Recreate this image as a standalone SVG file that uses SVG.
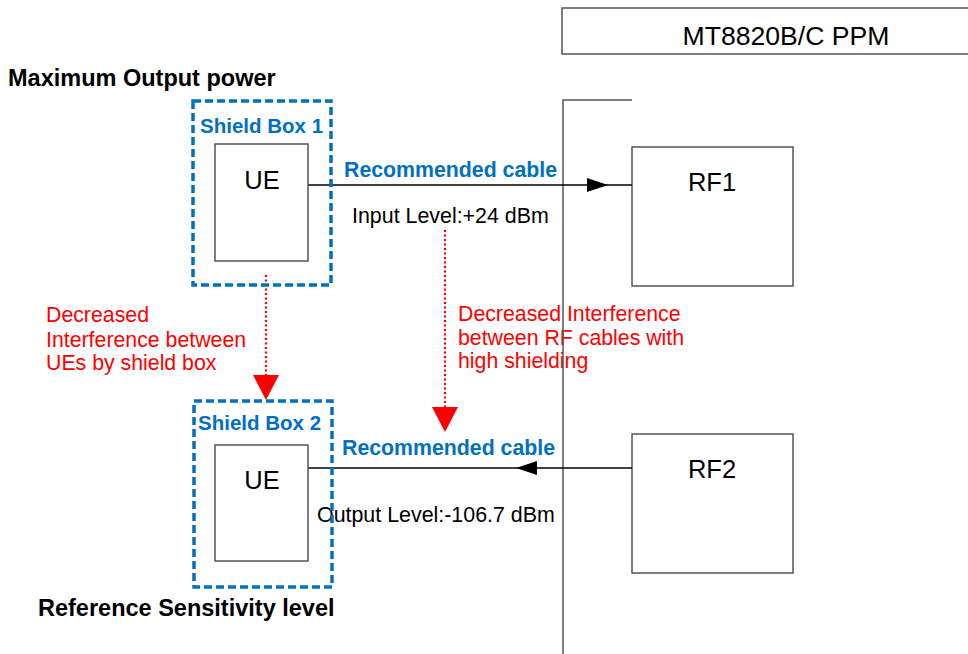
<svg xmlns="http://www.w3.org/2000/svg" width="968" height="654" viewBox="0 0 968 654">
<defs>
<style>
text{font-family:"Liberation Sans",Arial,sans-serif}
.box{fill:#fff;stroke:#555;stroke-width:1.5}
.shield{fill:none;stroke:#0070C0;stroke-width:3.5;stroke-dasharray:8 4}
.lbl{font-size:25.5px;fill:#000;text-anchor:middle}
.blue{font-size:20.5px;font-weight:bold;fill:#0070C0}
.cab{font-size:21.3px;font-weight:bold;fill:#0070C0}
.lev{font-size:21.4px;fill:#000}
.red{font-size:21.3px;fill:#FF0000}
.title{font-size:23.5px;font-weight:bold;fill:#000}
.wire{stroke:#000;stroke-width:1.3;fill:none}
.dot{stroke:#FF0000;stroke-width:2.2;stroke-dasharray:2 2.5;fill:none}
</style>
</defs>
<rect width="968" height="654" fill="#fff"/>

<g id="ppm">
<rect class="box" x="562" y="8" width="420" height="46"/>
<text x="786" y="45" style="font-size:26.6px" text-anchor="middle">MT8820B/C PPM</text>
</g>

<text class="title" x="8" y="86">Maximum Output power</text>
<text class="title" x="38" y="616">Reference Sensitivity level</text>

<g id="notes">
<text class="red" x="46" y="322">Decreased</text>
<text class="red" x="46" y="347">Interference between</text>
<text class="red" x="46" y="370">UEs by shield box</text>
<text class="red" x="458" y="321">Decreased Interference</text>
<text class="red" x="458" y="345">between RF cables with</text>
<text class="red" x="458" y="368">high shielding</text>
</g>

<g id="ppm-frame">
<polyline fill="none" stroke="#555" stroke-width="1.5" points="632,100 563,100 563,654"/>
</g>

<g id="rf1">
<rect class="box" x="632" y="147" width="161" height="139"/>
<text class="lbl" x="712" y="191">RF1</text>
</g>
<g id="rf2">
<rect class="box" x="632" y="434" width="161" height="139"/>
<text class="lbl" x="712" y="478">RF2</text>
</g>

<g id="connectors">
<line class="wire" x1="308" y1="185" x2="632" y2="185"/>
<polygon points="587,178 608,185 587,192" fill="#000"/>
<line class="wire" x1="632" y1="468" x2="308" y2="468"/>
<polygon points="537,461 516,468 537,475" fill="#000"/>
<line class="dot" x1="266" y1="275" x2="266" y2="376"/>
<polygon points="253,375 279,375 266,400" fill="#FF0000"/>
<line class="dot" x1="445" y1="230" x2="445" y2="408"/>
<polygon points="432,407 458,407 445,432" fill="#FF0000"/>
</g>

<g id="cable-labels">
<text class="cab" x="344" y="177">Recommended cable</text>
<text class="lev" x="352" y="223">Input Level:+24 dBm</text>
<text class="cab" x="342" y="455">Recommended cable</text>
<text class="lev" x="317" y="522">Output Level:-106.7 dBm</text>
</g>

<g id="ue1">
<rect class="box" x="215" y="144" width="93" height="117"/>
<text class="lbl" x="262" y="189">UE</text>
</g>
<g id="ue2">
<rect class="box" x="215" y="445" width="93" height="116"/>
<text class="lbl" x="262" y="489">UE</text>
</g>

<g id="shield1">
<rect class="shield" x="193" y="101" width="138" height="184"/>
<text class="blue" x="200" y="133">Shield Box 1</text>
</g>
<g id="shield2">
<rect class="shield" x="194" y="401" width="138" height="186"/>
<text class="blue" x="198" y="430">Shield Box 2</text>
</g>
</svg>
